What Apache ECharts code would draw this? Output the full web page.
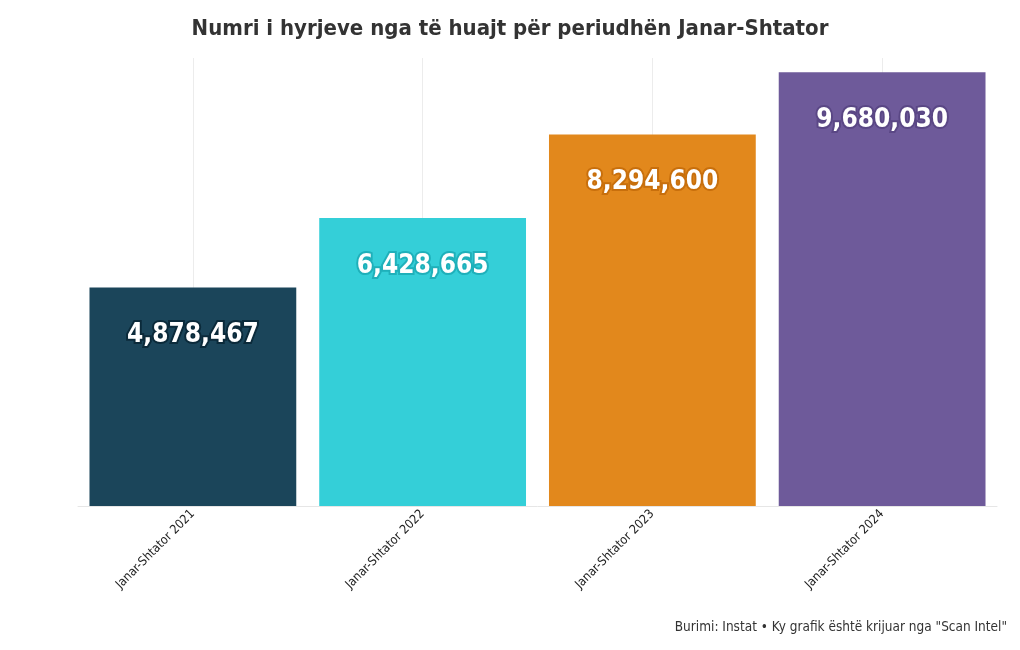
<!DOCTYPE html>
<html><head><meta charset="utf-8">
<script src="https://cdn.jsdelivr.net/npm/echarts@6/dist/echarts.min.js"></script>
<style>html,body{margin:0;padding:0;background:#fff}#c{width:1020px;height:650px}</style>
</head><body><div id="c"></div>
<script>
const categories = ['Janar-Shtator 2021','Janar-Shtator 2022','Janar-Shtator 2023','Janar-Shtator 2024'];
const values = [4878467, 6428665, 8294600, 9680030];
const barColors = ['#1b455a','#34cfd8','#e2881c','#6e5a9a'];
const labelBorders = ['#0b2a3a','#1fb0ba','#c86f0c','#5a4785'];
const FONT = '"Liberation Sans Narrow","DejaVu Sans Condensed","Roboto",sans-serif';
const chart = echarts.init(document.getElementById('c'));
chart.setOption({
  animation:false,
  title:{text:'Numri i hyrjeve nga të huajt për periudhën Janar-Shtator',left:'center',top:13,
    textStyle:{fontFamily:FONT,fontSize:22,fontWeight:'bold',color:'#333'}},
  graphic:[{type:'text',right:13,top:620,style:{text:'Burimi: Instat • Ky grafik është krijuar nga "Scan Intel"',
    font:'13.5px '+FONT,fill:'#333'}}],
  grid:{left:78,right:23,top:58,bottom:144},
  xAxis:{type:'category',data:categories,
    axisLine:{lineStyle:{color:'#e6e6e6'}},axisTick:{show:false},
    splitLine:{show:true,alignWithLabel:true,lineStyle:{color:'#ececec'}},
    axisLabel:{rotate:45,interval:0,fontFamily:FONT,fontSize:12.5,color:'#222',margin:6}},
  yAxis:{type:'value',min:0,max:10000000,show:false,splitLine:{show:false}},
  series:[{type:'bar',barCategoryGap:'10%',
    data:values.map((v,i)=>({value:v,itemStyle:{color:barColors[i]},
      label:{textBorderColor:labelBorders[i]}})),
    label:{show:true,position:'insideTop',distance:35,color:'#fff',fontFamily:FONT,fontSize:26,fontWeight:'bold',
      textBorderWidth:4,formatter:p=>p.value.toLocaleString('en-US')}}]
});
</script></body></html>
